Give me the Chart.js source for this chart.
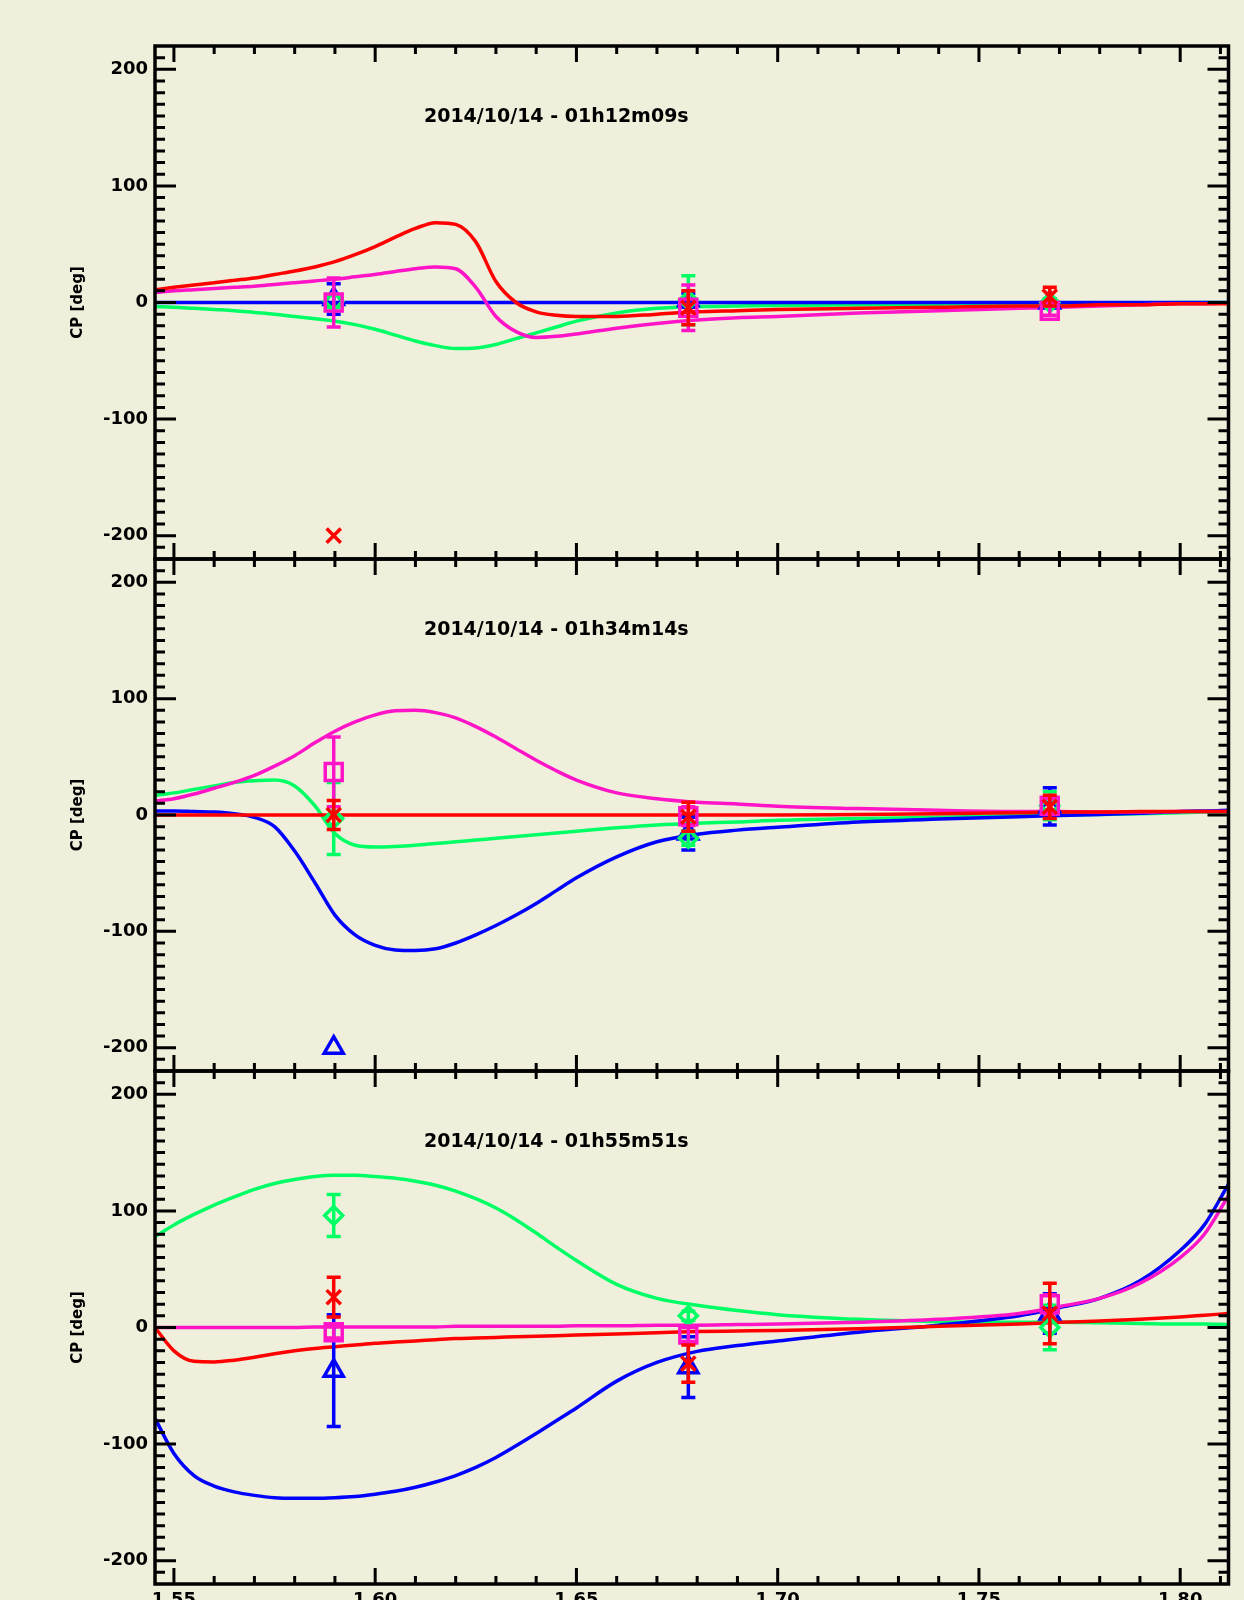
<!DOCTYPE html>
<html>
<head>
<meta charset="utf-8">
<script src="https://cdn.jsdelivr.net/npm/chart.js@4.4.0/dist/chart.umd.min.js"></script>
<style>
  html, body { margin: 0; padding: 0; background: #f0efdb; width: 1244px; height: 1600px; overflow: hidden; }
  canvas { position: absolute; left: 0; }
</style>
</head>
<body>
<canvas id="panel-0"></canvas>
<canvas id="panel-1"></canvas>
<canvas id="panel-2"></canvas>
<script>
// ===========================================================
// fase de cierre (CP) vs longitud de onda, tres fechas
// curvas del modelo + puntos medidos con barras de error
// ===========================================================

// eje x de las curvas del modelo (micrones)
const longitudes = [1.5453, 1.55, 1.555, 1.56, 1.565, 1.57, 1.575, 1.58, 1.585, 1.59,
                    1.595, 1.60, 1.605, 1.61, 1.615, 1.62, 1.625, 1.63, 1.635, 1.64,
                    1.645, 1.65, 1.66, 1.67, 1.68, 1.69, 1.70, 1.72, 1.74, 1.76,
                    1.77, 1.78, 1.79, 1.80, 1.806, 1.812];

// canales donde hay medicion
const canales = [1.5897, 1.6778, 1.7676];

const titulos = ['2014/10/14 - 01h12m09s', '2014/10/14 - 01h34m14s', '2014/10/14 - 01h55m51s'];
const ticks_x = [1.55, 1.60, 1.65, 1.70, 1.75, 1.80];
const ticks_y = [-200, -100, 0, 100, 200];

// ---------------- panel 1 (01h12m09s) ----------------
const modelo1_rojo    = [11, 13, 15, 17, 19, 21, 24, 27, 30.5, 35, 41, 48, 56, 63.5, 68.5, 67, 52, 18, 0, -8,
                         -11, -12, -12, -10, -8, -7, -6, -5, -4, -3, -3, -2, -2, -1, -1, -1];
const modelo1_magenta = [8.5, 10, 11, 12, 13, 14, 15.5, 17, 18.5, 20, 22, 24, 26.5, 29, 30.5, 29, 13, -12, -25, -30,
                         -29, -27, -22, -18, -15, -13, -12, -9, -7, -5, -4, -3, -2, -1, -1, -0.5];
const modelo1_verde   = [-3.5, -4, -5, -6, -7, -8.5, -10, -12, -14, -16, -19, -23, -28, -33, -37, -39.5, -39, -36, -31, -26,
                         -21, -16, -9, -5, -3.5, -3, -2.5, -2, -1.5, -1, -1, -0.5, -0.5, 0, 0, 0];
const modelo1_azul    = [0, 0, 0, 0, 0, 0, 0, 0, 0, 0, 0, 0, 0, 0, 0, 0, 0, 0, 0, 0,
                         0, 0, 0, 0, 0, 0, 0, 0, 0, 0, 0, 0, 0, 0, 0, 0];
const datos1_rojo    = [-200, -4.5, 5];   const error1_rojo    = [0, 14.5, 8];
const datos1_magenta = [0, -4.5, -7];     const error1_magenta = [21, 19.5, 4];
const datos1_verde   = [1, 2, 0];         const error1_verde   = [5, 21, 3];
const datos1_azul    = [3, 2, 0];         const error1_azul    = [13, 6, 3];

// ---------------- panel 2 (01h34m14s) ----------------
const modelo2_rojo    = [0, 0, 0, 0, 0, 0, 0, 0, 0, 0, 0, 0, 0, 0, 0, 0, 0, 0, 0, 0,
                         0, 0, 0, 0, 0, 0, 0, 0.5, 1, 2, 2.5, 2.5, 3, 3, 3, 3];
const modelo2_magenta = [12, 14, 18, 23, 28, 34, 42, 51, 62, 72, 80, 86, 89.5, 90, 88, 83.5, 76, 67, 57, 47,
                         38, 30, 19, 14, 11, 9.5, 7.5, 5.5, 4, 3, 3, 2.5, 2.5, 3, 3, 3];
const modelo2_verde   = [17, 19, 22, 25, 28, 29.5, 30, 25, 8, -16, -26, -27.5, -27, -26, -24.5, -23, -21.5, -20, -18.5, -17,
                         -15.5, -14, -11, -8.5, -7, -6, -4.5, -3, -2, -0.5, 0, 0.5, 1, 2, 2.5, 3];
const modelo2_azul    = [3.5, 3.5, 3, 2.5, 1, -2, -10, -31, -58, -86, -103, -112, -116, -116.5, -115, -110, -103, -95, -86, -76,
                         -65, -54, -36, -23, -16.5, -13, -10.5, -6, -3.5, -1.5, -0.5, 0.5, 1.5, 3, 3.5, 4];
const datos2_rojo    = [0, -1.5, 7];      const error2_rojo    = [12.5, 12.5, 10];
const datos2_magenta = [37, -1, 8];       const error2_magenta = [30, 8, 6];
const datos2_verde   = [-3, -20, 8];      const error2_verde   = [31, 6, 12];
const datos2_azul    = [-200, -16, 7.5];  const error2_azul    = [0, 14, 16];

// ---------------- panel 3 (01h55m51s) ----------------
const modelo3_rojo    = [0, -20, -29, -29.5, -28, -25.5, -22.5, -20, -18, -16.5, -15, -13.5, -12.5, -11.5, -10.5, -9.5, -9, -8.5, -8, -7.5,
                         -7, -6.5, -5.5, -4.5, -3.5, -3, -2.5, -1, 1, 3, 4.5, 5.5, 7, 9, 10.5, 12];
const modelo3_magenta = [0, 0, 0, 0, 0, 0, 0, 0, 0.5, 0.5, 0.5, 0.5, 0.5, 0.5, 0.5, 1, 1, 1, 1, 1,
                         1, 1.5, 1.5, 2, 2, 2.5, 3, 4.5, 7, 12, 18, 25, 38, 60, 80, 113];
const modelo3_verde   = [78, 88, 97, 105, 112, 118.5, 123.5, 127, 129.5, 130.5, 130.5, 129.5, 128, 125.5, 122, 117, 110.5, 102.5, 92.5, 81,
                         69, 57.5, 37, 25, 19, 14.5, 11, 7, 5, 4.5, 4.5, 4, 3.5, 3, 3, 2.5];
const modelo3_azul    = [-78, -108, -127, -136, -141, -144, -146, -146.5, -146.5, -146, -145, -143, -140.5, -137, -132.5, -127, -120, -111.5, -101.5, -91,
                         -80, -69, -46, -30, -20.5, -15.5, -11.5, -4, 2, 10, 17, 25, 40, 66, 88, 123];
const datos3_rojo    = [26, -31, 12];     const error3_rojo    = [17, 16, 26];
const datos3_magenta = [-4, -6, 20];      const error3_magenta = [5, 6, 8];
const datos3_verde   = [96, 10, 0];       const error3_verde   = [18, 4, 19];
const datos3_azul    = [-37, -34, 12];    const error3_azul    = [48, 26, 17];


// colores de cada serie
const colores = { rojo: '#ff0000', magenta: '#ff14c8', verde: '#00ff64', azul: '#0000ff' };

// bordes verticales de los tres paneles (px en la pagina)
const bordes_paneles = [46, 559, 1071, 1584];

Chart.defaults.font.family = '"DejaVu Sans", sans-serif';
Chart.defaults.font.weight = 'bold';
Chart.defaults.color = '#000';


// -----------------------------------------------------------
// plugin: barras de error, se dibujan justo antes del marcador
// -----------------------------------------------------------
const plugin_errores = {
    id: 'errores',
    beforeDatasetDraw(chart, args) {
        const ds = chart.data.datasets[args.index];
        if (!ds.errores) return;
        const ctx = chart.ctx;
        const ex = chart.scales.x, ey = chart.scales.y;
        ctx.save();
        ctx.strokeStyle = ds.pointBorderColor;
        ctx.lineWidth = 3.5;
        ctx.beginPath();
        ds.data.forEach((p, i) => {
            const e = ds.errores[i];
            if (!e) return;
            const px = ex.getPixelForValue(p.x);
            const y1 = ey.getPixelForValue(p.y - e);
            const y2 = ey.getPixelForValue(p.y + e);
            ctx.moveTo(px, y1); ctx.lineTo(px, y2);
            ctx.moveTo(px - 7, y1); ctx.lineTo(px + 7, y1);
            ctx.moveTo(px - 7, y2); ctx.lineTo(px + 7, y2);
        });
        ctx.stroke();
        ctx.restore();
    }
};

// -----------------------------------------------------------
// plugin: marco negro con ticks hacia adentro y titulo interno
// -----------------------------------------------------------
const plugin_marco = {
    id: 'marco',
    afterDraw(chart, args, opts) {
        const ctx = chart.ctx;
        const area = chart.chartArea;
        const ex = chart.scales.x, ey = chart.scales.y;
        ctx.save();
        ctx.strokeStyle = '#000';
        ctx.lineWidth = 3.5;
        ctx.strokeRect(area.left, area.top, area.right - area.left, area.bottom - area.top);

        ctx.lineWidth = 3;
        ctx.beginPath();
        // ticks del eje x: mayores cada 0.05, menores cada 0.01
        for (let k = 155; k <= 181; k++) {
            const px = ex.getPixelForValue(k / 100);
            const largo = (k % 5 === 0) ? 16 : 8;
            ctx.moveTo(px, area.top); ctx.lineTo(px, area.top + largo);
            ctx.moveTo(px, area.bottom); ctx.lineTo(px, area.bottom - largo);
        }
        // ticks del eje y: mayores cada 100, menores cada 10
        for (let k = -21; k <= 21; k++) {
            const py = ey.getPixelForValue(k * 10);
            const largo = (k % 10 === 0) ? 21 : 10;
            ctx.moveTo(area.left, py); ctx.lineTo(area.left + largo, py);
            ctx.moveTo(area.right, py); ctx.lineTo(area.right - largo, py);
        }
        ctx.stroke();

        // titulo con la fecha, dentro del grafico
        ctx.fillStyle = '#000';
        ctx.font = 'bold 19px "DejaVu Sans"';
        ctx.textAlign = 'center';
        ctx.textBaseline = 'middle';
        ctx.fillText(opts.texto, ex.getPixelForValue(opts.x), ey.getPixelForValue(opts.y));
        ctx.restore();
    }
};


// arma un dataset de curva del modelo
function curva(valores, color, orden) {
    return {
        type: 'line',
        data: longitudes.map((x, i) => ({ x: x, y: valores[i] })),
        borderColor: color,
        borderWidth: 3.5,
        pointRadius: 0,
        showLine: true,
        fill: false,
        cubicInterpolationMode: 'monotone',
        order: orden
    };
}

// arma un dataset de puntos medidos con su estilo de marcador
function puntos(valores, errores, color, estilo, radio, orden) {
    return {
        type: 'scatter',
        data: canales.map((x, i) => ({ x: x, y: valores[i] })),
        errores: errores,
        showLine: false,
        pointStyle: estilo,
        pointRadius: radio,
        pointBorderWidth: 3.5,
        pointBorderColor: color,
        pointBackgroundColor: 'rgba(0,0,0,0)',
        order: orden
    };
}


// -----------------------------------------------------------
// funcion: crear_panel
// -----------------------------------------------------------
function crear_panel(indice, series) {
    const lienzo = document.getElementById('panel-' + indice);
    const alto_panel = bordes_paneles[indice + 1] - bordes_paneles[indice];
    lienzo.width = 1244;
    lienzo.height = alto_panel + 90;
    lienzo.style.top = (bordes_paneles[indice] - 40) + 'px';
    const ultimo = (indice === 2);

    new Chart(lienzo.getContext('2d'), {
        type: 'scatter',
        data: {
            datasets: [
                puntos(series.datos_rojo, series.error_rojo, colores.rojo, 'crossRot', 10, 1),
                puntos(series.datos_magenta, series.error_magenta, colores.magenta, 'rect', 12, 2),
                puntos(series.datos_verde, series.error_verde, colores.verde, 'rectRot', 9, 3),
                puntos(series.datos_azul, series.error_azul, colores.azul, 'triangle', 11, 4),
                curva(series.rojo, colores.rojo, 5),
                curva(series.magenta, colores.magenta, 6),
                curva(series.azul, colores.azul, 7),
                curva(series.verde, colores.verde, 8)
            ]
        },
        options: {
            responsive: false,
            animation: false,
            events: [],
            layout: { padding: { top: 40, right: 6, left: 0, bottom: 0 } },
            plugins: {
                legend: { display: false },
                tooltip: { enabled: false },
                marco: { texto: titulos[indice], x: 1.645, y: 159 }
            },
            scales: {
                x: {
                    type: 'linear',
                    min: 1.5453,
                    max: 1.812,
                    grid: { display: false, drawTicks: false },
                    border: { display: false },
                    afterBuildTicks: (escala) => { escala.ticks = ticks_x.map(v => ({ value: v })); },
                    afterFit: (escala) => { escala.height = 50; },
                    ticks: {
                        display: ultimo,
                        autoSkip: false,
                        maxRotation: 0,
                        padding: 6,
                        font: { size: 18, weight: 'bold' },
                        callback: (v) => Number(v).toFixed(2)
                    }
                },
                y: {
                    min: -220,
                    max: 220,
                    grid: { display: false, drawTicks: false },
                    border: { display: false },
                    afterBuildTicks: (escala) => { escala.ticks = ticks_y.map(v => ({ value: v })); },
                    afterFit: (escala) => { escala.width = 155; },
                    ticks: { padding: 7, font: { size: 18, weight: 'bold' } },
                    title: {
                        display: true,
                        text: 'CP [deg]',
                        font: { size: 15, weight: 'bold' },
                        padding: { top: 69, bottom: 0 }
                    }
                }
            }
        },
        plugins: [plugin_errores, plugin_marco]
    });
}

crear_panel(0, {
    rojo: modelo1_rojo, magenta: modelo1_magenta, verde: modelo1_verde, azul: modelo1_azul,
    datos_rojo: datos1_rojo, error_rojo: error1_rojo, datos_magenta: datos1_magenta, error_magenta: error1_magenta,
    datos_verde: datos1_verde, error_verde: error1_verde, datos_azul: datos1_azul, error_azul: error1_azul
});
crear_panel(1, {
    rojo: modelo2_rojo, magenta: modelo2_magenta, verde: modelo2_verde, azul: modelo2_azul,
    datos_rojo: datos2_rojo, error_rojo: error2_rojo, datos_magenta: datos2_magenta, error_magenta: error2_magenta,
    datos_verde: datos2_verde, error_verde: error2_verde, datos_azul: datos2_azul, error_azul: error2_azul
});
crear_panel(2, {
    rojo: modelo3_rojo, magenta: modelo3_magenta, verde: modelo3_verde, azul: modelo3_azul,
    datos_rojo: datos3_rojo, error_rojo: error3_rojo, datos_magenta: datos3_magenta, error_magenta: error3_magenta,
    datos_verde: datos3_verde, error_verde: error3_verde, datos_azul: datos3_azul, error_azul: error3_azul
});
</script>
</body>
</html>
